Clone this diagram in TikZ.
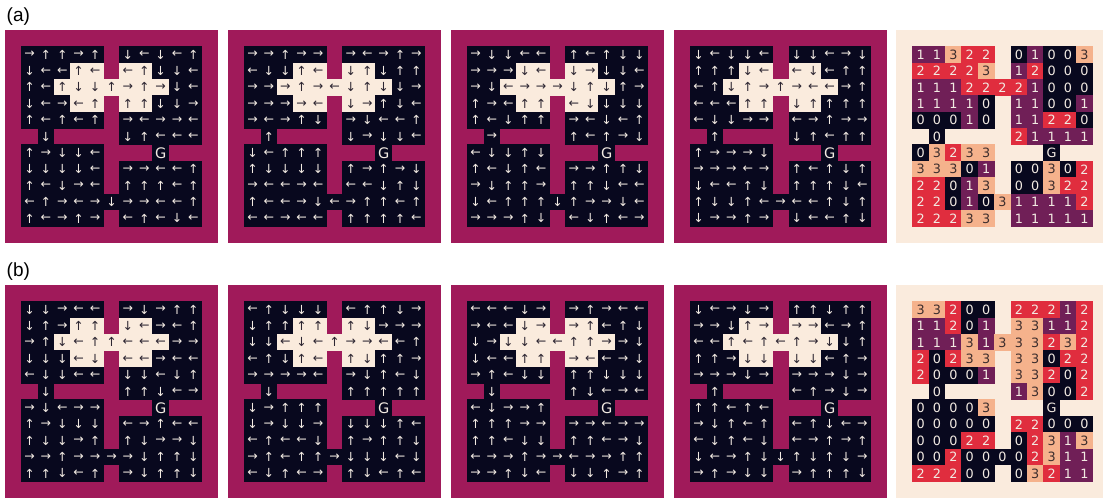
\documentclass[tikz,border=0pt]{standalone}
\usepackage{fontspec}
\setmainfont{DejaVu Sans}
\newfontfamily\labfont{Liberation Sans}
\definecolor{wallc}{RGB}{160,26,90}
\definecolor{dk}{RGB}{8,8,30}
\definecolor{crm}{RGB}{250,235,221}
\definecolor{arw}{RGB}{242,234,226}
\definecolor{darw}{RGB}{45,38,50}
\definecolor{cone}{RGB}{112,31,87}
\definecolor{ctwo}{RGB}{224,45,62}
\definecolor{cthree}{RGB}{245,178,140}
\definecolor{tthree}{RGB}{60,45,45}
\tikzset{
  celltxt/.style={inner sep=0pt, font=\fontsize{12.5}{12.5}\selectfont},
  numtxt/.style={inner sep=0pt, font=\fontsize{12.8}{12.8}\selectfont},
  goaltxt/.style={inner sep=0pt, font=\fontsize{14.5}{14.5}\selectfont},
  labtxt/.style={inner sep=0pt, anchor=west, font=\labfont\fontsize{19}{19}\selectfont}
}
\newcount\ci
\def\cs{16.3846}
\def\rpstep#1{\ifx#1\relax\let\rpnext\relax\else\def\rpch{#1}\let\rpnext\rpdo\fi\rpnext}
\def\rpdo{\pgfmathsetmacro\cx{\px+\cs*(\the\ci+1)}\pgfmathsetmacro\cy{\py+\cs*(\ri+1)}\edef\nm{\pid-\ri-\the\ci}\csname cell\pmode\rpch\endcsname\advance\ci by 1\relax\rpstep}
\def\acell#1#2#3#4{\fill[#1] (\cx-0.2,\cy-0.2) rectangle ++(\cs+0.4,\cs+0.4); \node[#4,text=#2] (\nm) at (\cx+\cs/2,\cy+\cs/2) {#3};}
% arrow panels
\expandafter\def\csname cellA-\endcsname{}
\expandafter\def\csname cellAu\endcsname{\acell{dk}{arw}{↑}{celltxt}}
\expandafter\def\csname cellAd\endcsname{\acell{dk}{arw}{↓}{celltxt}}
\expandafter\def\csname cellAl\endcsname{\acell{dk}{arw}{←}{celltxt}}
\expandafter\def\csname cellAr\endcsname{\acell{dk}{arw}{→}{celltxt}}
\expandafter\def\csname cellAU\endcsname{\acell{crm}{darw}{↑}{celltxt}}
\expandafter\def\csname cellAD\endcsname{\acell{crm}{darw}{↓}{celltxt}}
\expandafter\def\csname cellAL\endcsname{\acell{crm}{darw}{←}{celltxt}}
\expandafter\def\csname cellAR\endcsname{\acell{crm}{darw}{→}{celltxt}}
\expandafter\def\csname cellAg\endcsname{\acell{dk}{arw}{G}{goaltxt}}
% number panels
\expandafter\def\csname cellN-\endcsname{}
\expandafter\def\csname cellN0\endcsname{\acell{dk}{arw}{0}{numtxt}}
\expandafter\def\csname cellN1\endcsname{\acell{cone}{arw}{1}{numtxt}}
\expandafter\def\csname cellN2\endcsname{\acell{ctwo}{arw}{2}{numtxt}}
\expandafter\def\csname cellN3\endcsname{\acell{cthree}{tthree}{3}{numtxt}}
\expandafter\def\csname cellNg\endcsname{\acell{dk}{arw}{G}{numtxt}}
\newcommand\setpanel[4]{\def\pid{#1}\def\px{#2}\def\py{#3}\def\pmode{#4}}
\newcommand\prow[2]{\def\ri{#1}\ci=0 \rpstep#2\relax}
\begin{document}
\begin{tikzpicture}[x=1pt,y=-1pt]
\useasboundingbox (0,0) rectangle (1103,498);
\node[labtxt] (la) at (6.5,17) {(a)};
\node[labtxt] (lb) at (6.5,272) {(b)};
% ---------- row (a) ----------
\fill[wallc] (5,30) rectangle ++(213,213);
\setpanel{pa1}{5}{30}{A}
\prow{0}{ruuru-dldlu}
\prow{1}{dllUL-LUddl}
\prow{2}{ulUDDURURdl}
\prow{3}{dlrLU-UUddr}
\prow{4}{ululu-rlrrl}
\prow{5}{-d----dulll}
\prow{6}{urddl---g--}
\prow{7}{ddddl-rrllu}
\prow{8}{uldrl-uuulu}
\prow{9}{lurlrdrrllu}
\prow{10}{ulrur-luldl}
\fill[wallc] (228,30) rectangle ++(213,213);
\setpanel{pa2}{228}{30}{A}
\prow{0}{rrurr-rlrur}
\prow{1}{lddUL-DUduu}
\prow{2}{rrRURLDUDdr}
\prow{3}{rrrRL-DRudl}
\prow{4}{rlrud-rdllu}
\prow{5}{-u----drddl}
\prow{6}{dluuu---g--}
\prow{7}{udddd-ururd}
\prow{8}{rllrl-lldud}
\prow{9}{ullrdlruulu}
\prow{10}{llrll-uuuul}
\fill[wallc] (451,30) rectangle ++(213,213);
\setpanel{pa3}{451}{30}{A}
\prow{0}{rddll-uludd}
\prow{1}{rrrDL-DRddl}
\prow{2}{rdLRRRDUDur}
\prow{3}{urlUU-LDddd}
\prow{4}{ulduu-rldlu}
\prow{5}{-r----ulurd}
\prow{6}{lddud---g--}
\prow{7}{uldul-rruud}
\prow{8}{rduur-uudll}
\prow{9}{dluuudurrdl}
\prow{10}{rrrud-ldulr}
\fill[wallc] (674,30) rectangle ++(213,213);
\setpanel{pa4}{674}{30}{A}
\prow{0}{dlddl-ddlrd}
\prow{1}{uuuDL-LDluu}
\prow{2}{luDURURLLru}
\prow{3}{lllUU-DUuuu}
\prow{4}{lddrr-lrurr}
\prow{5}{-u----duluu}
\prow{6}{urrrd---g--}
\prow{7}{rrrlr-uludu}
\prow{8}{dllud-uuudl}
\prow{9}{uddulrlludu}
\prow{10}{drrur-dllud}
\fill[crm] (896,30) rectangle (1103,243);
\setpanel{pa5}{896}{30}{N}
\prow{0}{11322-01003}
\prow{1}{22223-12000}
\prow{2}{11122221000}
\prow{3}{11110-11001}
\prow{4}{00010-11220}
\prow{5}{-0----21111}
\prow{6}{03233---g--}
\prow{7}{33301-00302}
\prow{8}{22013-00322}
\prow{9}{22010311112}
\prow{10}{22233-11111}
% ---------- row (b) ----------
\fill[wallc] (5,285) rectangle ++(213,213);
\setpanel{pb1}{5}{285}{A}
\prow{0}{ddrll-rdruu}
\prow{1}{durUU-DLrlu}
\prow{2}{ruDLUULLLrr}
\prow{3}{dddLD-LLrll}
\prow{4}{lddll-ddldu}
\prow{5}{-d----uudlr}
\prow{6}{rdlrr---g--}
\prow{7}{urddd-lrull}
\prow{8}{uddru-udrrd}
\prow{9}{rrurrrrduud}
\prow{10}{uudlu-rduud}
\fill[wallc] (228,285) rectangle ++(213,213);
\setpanel{pb2}{228}{285}{A}
\prow{0}{luddd-luudr}
\prow{1}{duuUU-UDrrr}
\prow{2}{ddLDLURRLlu}
\prow{3}{ludUL-UDuur}
\prow{4}{rrrrl-rduld}
\prow{5}{-d----uuuuu}
\prow{6}{druuu---g--}
\prow{7}{drddr-dddul}
\prow{8}{lulld-uruud}
\prow{9}{ruluurdddld}
\prow{10}{ldulr-udlul}
\fill[wallc] (451,285) rectangle ++(213,213);
\setpanel{pb3}{451}{285}{A}
\prow{0}{llldr-rurll}
\prow{1}{rllDR-RUlud}
\prow{2}{drDDLLUURrd}
\prow{3}{dllUU-RLlrd}
\prow{4}{ruldd-uuddd}
\prow{5}{-d----udlrl}
\prow{6}{ldrru---g--}
\prow{7}{uuurr-rrlrr}
\prow{8}{uuldd-uulrd}
\prow{9}{lrrurrlrruu}
\prow{10}{rrudl-dduru}
\fill[wallc] (674,285) rectangle ++(213,213);
\setpanel{pb4}{674}{285}{A}
\prow{0}{dlrdr-uuduu}
\prow{1}{rrdUR-RRlru}
\prow{2}{llULULURDdu}
\prow{3}{uurDD-DDlur}
\prow{4}{rrrdr-rrrdr}
\prow{5}{-u----lurdr}
\prow{6}{uulul---g--}
\prow{7}{rdulu-ludlr}
\prow{8}{lduld-lruru}
\prow{9}{dlruddududr}
\prow{10}{rurdd-ruuud}
\fill[crm] (896,285) rectangle (1103,498);
\setpanel{pb5}{896}{285}{N}
\prow{0}{33200-22212}
\prow{1}{11201-33112}
\prow{2}{11131333232}
\prow{3}{20233-33022}
\prow{4}{20001-33202}
\prow{5}{-0----13002}
\prow{6}{00003---g--}
\prow{7}{00000-22000}
\prow{8}{00022-02313}
\prow{9}{00200002311}
\prow{10}{22200-03211}
\end{tikzpicture}
\end{document}
